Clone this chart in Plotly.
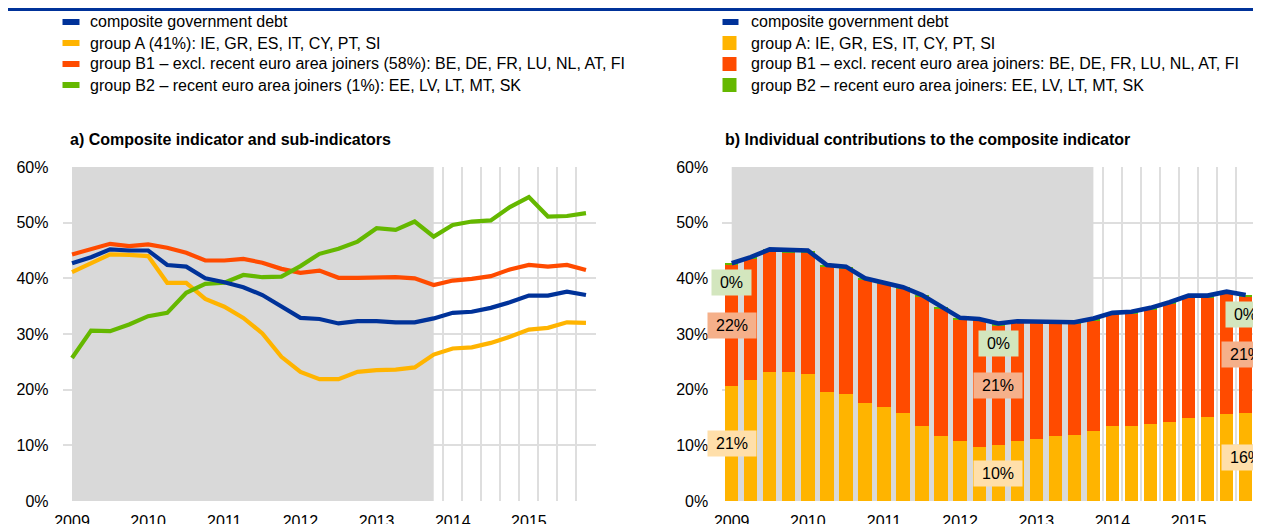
import plotly.graph_objects as go
from plotly.subplots import make_subplots

# ---------------- data ----------------
years = ["2009", "2010", "2011", "2012", "2013", "2014", "2015"]
quarters = [f"{y} Q{q}" for y in years for q in range(1, 5)]
y_ticks = [0, 10, 20, 30, 40, 50, 60]

composite = [42.7, 43.8, 45.2, 45.0, 45.0, 42.4, 42.1, 40.0, 39.3, 38.4, 37.0, 34.9, 32.9, 32.7,
             31.9, 32.3, 32.3, 32.1, 32.1, 32.8, 33.8, 34.0, 34.7, 35.7, 36.9, 36.9, 37.6, 37.0]
group_a = [41.1, 42.6, 44.3, 44.2, 44.0, 39.2, 39.2, 36.3, 34.9, 32.9, 30.1, 25.9, 23.2, 21.9,
           21.9, 23.2, 23.5, 23.6, 24.0, 26.3, 27.4, 27.6, 28.4, 29.5, 30.8, 31.1, 32.1, 32.0]
group_b1 = [44.3, 45.2, 46.2, 45.8, 46.1, 45.5, 44.6, 43.2, 43.2, 43.5, 42.8, 41.7, 41.0, 41.4,
            40.1, 40.1, 40.2, 40.2, 40.0, 38.8, 39.6, 39.9, 40.4, 41.6, 42.4, 42.1, 42.4, 41.5]
group_b2 = [25.7, 30.6, 30.5, 31.7, 33.2, 33.8, 37.4, 39.0, 39.2, 40.6, 40.2, 40.3, 42.2, 44.4,
            45.3, 46.6, 49.0, 48.7, 50.2, 47.5, 49.6, 50.2, 50.4, 52.8, 54.6, 51.1, 51.2, 51.7]

# contributions to the composite indicator (panel b)
contrib_a = [20.6, 21.7, 23.2, 23.1, 22.8, 19.5, 19.2, 17.6, 16.9, 15.8, 13.5, 11.6, 10.7, 9.7,
             10.0, 10.7, 11.2, 11.7, 11.9, 12.6, 13.5, 13.5, 13.8, 14.2, 15.0, 15.1, 15.6, 15.8]
contrib_b1 = [21.8, 21.8, 21.7, 21.6, 21.9, 22.6, 22.6, 22.1, 22.1, 22.3, 23.2, 23.0, 21.9, 22.7,
              21.4, 21.3, 20.8, 20.1, 19.9, 19.9, 20.0, 20.2, 20.6, 21.2, 21.6, 21.5, 21.7, 20.9]
contrib_b2 = [0.3, 0.3, 0.3, 0.3, 0.3, 0.3, 0.3, 0.3, 0.3, 0.3, 0.3, 0.3, 0.3, 0.3,
              0.4, 0.3, 0.3, 0.3, 0.3, 0.3, 0.3, 0.3, 0.3, 0.3, 0.3, 0.3, 0.3, 0.3]

crisis_start, crisis_end = "2009 Q1", "2013 Q4"
labelled_quarters = ["2009 Q1", "2012 Q3", "2015 Q4"]

legend_a = ["composite government debt",
            "group A (41%): IE, GR, ES, IT, CY, PT, SI",
            "group B1 \u2013 excl. recent euro area joiners (58%): BE, DE, FR, LU, NL, AT, FI",
            "group B2 \u2013 recent euro area joiners (1%): EE, LV, LT, MT, SK"]
legend_b = ["composite government debt",
            "group A: IE, GR, ES, IT, CY, PT, SI",
            "group B1 \u2013 excl. recent euro area joiners: BE, DE, FR, LU, NL, AT, FI",
            "group B2 \u2013 recent euro area joiners: EE, LV, LT, MT, SK"]
title_a = "a) Composite indicator and sub-indicators"
title_b = "b) Individual contributions to the composite indicator"

# ---------------- style ----------------
W, H = 1261, 524
OFF = 8  # the page body margin shifts the figure by this many pixels
FONT = "Arial, 'Liberation Sans', sans-serif"
BLUE, YELLOW, ORANGE, GREEN = "#003299", "#FFB400", "#FF4B00", "#65B800"
SHADE, GRID = "#D9D9D9", "#DEDEDE"
LBL_BG = {"a": "#FFDFAA", "b1": "#F5B08A", "b2": "#D3E6BE"}

xi = list(range(len(quarters)))
qpos = {q: i for i, q in enumerate(quarters)}


def px_x(p):
    return (p - OFF) / W


def px_y(p):
    return 1 - (p - OFF) / H


fig = make_subplots(rows=1, cols=2)

# panel a: lines
for vals, col, name in [(group_a, YELLOW, legend_a[1]), (group_b1, ORANGE, legend_a[2]),
                        (group_b2, GREEN, legend_a[3]), (composite, BLUE, legend_a[0])]:
    fig.add_trace(go.Scatter(x=xi, y=vals, mode="lines", name=name, text=quarters,
                             line=dict(color=col, width=4.2, shape="linear"),
                             showlegend=False), row=1, col=1)

# panel b: stacked bars + composite line
for vals, col, name in [(contrib_a, YELLOW, legend_b[1]), (contrib_b1, ORANGE, legend_b[2]),
                        (contrib_b2, GREEN, legend_b[3])]:
    fig.add_trace(go.Bar(x=xi, y=vals, name=name, text=quarters, textposition="none",
                         marker=dict(color=col, line=dict(width=0)),
                         showlegend=False), row=1, col=2)
fig.add_trace(go.Scatter(x=xi, y=composite, mode="lines", name=legend_b[0], text=quarters,
                         line=dict(color=BLUE, width=4.6), showlegend=False), row=1, col=2)

fig.update_layout(barmode="stack", bargap=0.3)

dom_a = [px_x(62.5), px_x(595.5)]
dom_b = [px_x(722.2), px_x(1255.2)]
dom_y = [px_y(501), px_y(167)]

year_ticks = [qpos[f"{y} Q1"] for y in years]
bounds = [i - 0.5 for i in range(len(quarters) + 1)]

for n, dom in [(1, dom_a), (2, dom_b)]:
    fig.update_xaxes(domain=dom, range=[-0.5, len(quarters) - 0.5], tickmode="array",
                     tickvals=year_ticks, ticktext=years, showgrid=False, zeroline=False,
                     showline=False, ticks="", ticklabelstandoff=9, automargin=False,
                     tickfont=dict(family=FONT, size=16, color="#000"),
                     minor=dict(tickmode="array", tickvals=bounds, showgrid=True,
                                gridcolor=GRID, gridwidth=1.5, ticks=""),
                     row=1, col=n)
    fig.update_yaxes(domain=dom_y, range=[0, 60], tickmode="array",
                     tickvals=y_ticks, ticktext=[f"{v}%" for v in y_ticks],
                     showgrid=True, gridcolor=GRID, gridwidth=1.5, zeroline=False,
                     showline=False, ticks="", ticklabelstandoff=13, automargin=False,
                     tickfont=dict(family=FONT, size=16, color="#000"),
                     row=1, col=n)

shapes = []
# crisis shading in both panels
for xr, yr in [("x", "y"), ("x2", "y2")]:
    shapes.append(dict(type="rect", xref=xr, yref=yr, x0=qpos[crisis_start], x1=qpos[crisis_end],
                       y0=0, y1=60, fillcolor=SHADE, line=dict(width=0), layer="between"))
# top rule
shapes.append(dict(type="line", xref="paper", yref="paper", x0=0, x1=1,
                   y0=1 - 1.5 / H, y1=1 - 1.5 / H, line=dict(color=BLUE, width=3)))

annotations = []
rows_y = [22, 43, 64, 85]
colors = [BLUE, YELLOW, ORANGE, GREEN]
# legend panel a: short thick bars
for ry, col, txt in zip(rows_y, colors, legend_a):
    shapes.append(dict(type="rect", xref="paper", yref="paper", x0=px_x(62.5), x1=px_x(79.5),
                       y0=px_y(ry + 3), y1=px_y(ry - 3), fillcolor=col, line=dict(width=0)))
    annotations.append(dict(xref="paper", yref="paper", x=px_x(88), y=px_y(ry), text=txt,
                            showarrow=False, xanchor="left", yanchor="middle",
                            font=dict(family=FONT, size=16, color="#000")))
# legend panel b: line + squares
for k, (ry, col, txt) in enumerate(zip(rows_y, colors, legend_b)):
    if k == 0:
        x1, h = 738.5, 3
    else:
        x1, h = 736.5, 7
    shapes.append(dict(type="rect", xref="paper", yref="paper", x0=px_x(722.5), x1=px_x(x1),
                       y0=px_y(ry + h), y1=px_y(ry - h), fillcolor=col, line=dict(width=0)))
    annotations.append(dict(xref="paper", yref="paper", x=px_x(748.5), y=px_y(ry), text=txt,
                            showarrow=False, xanchor="left", yanchor="middle",
                            font=dict(family=FONT, size=16, color="#000")))

# panel titles
for x0, txt in [(68, title_a), (723, title_b)]:
    annotations.append(dict(xref="paper", yref="paper", x=px_x(x0), y=px_y(139),
                            text=f"<b>{txt}</b>", showarrow=False, xanchor="left",
                            yanchor="middle", font=dict(family=FONT, size=16, color="#000")))

# data labels in panel b
for q in labelled_quarters:
    i = qpos[q]
    a, b1, b2 = contrib_a[i], contrib_b1[i], contrib_b2[i]
    total = a + b1 + b2
    for val, ypos, key in [(a, a / 2, "a"), (b1, a + b1 / 2, "b1"), (b2, total - 3.5, "b2")]:
        t = f"{round(val):.0f}%"
        annotations.append(dict(xref="x2", yref="y2", x=i, y=ypos, text=t, showarrow=False,
                                bgcolor=LBL_BG[key], borderpad=4, width=9 * len(t) + 13,
                                font=dict(family=FONT, size=16, color="#000"),
                                xanchor="center", yanchor="middle"))

fig.update_layout(template="none", width=W, height=H,
                  margin=dict(l=0, r=0, t=0, b=0, autoexpand=False),
                  paper_bgcolor="white", plot_bgcolor="white",
                  shapes=shapes, annotations=annotations, showlegend=False,
                  font=dict(family=FONT, color="#000"))

fig.write_html("out.html")
